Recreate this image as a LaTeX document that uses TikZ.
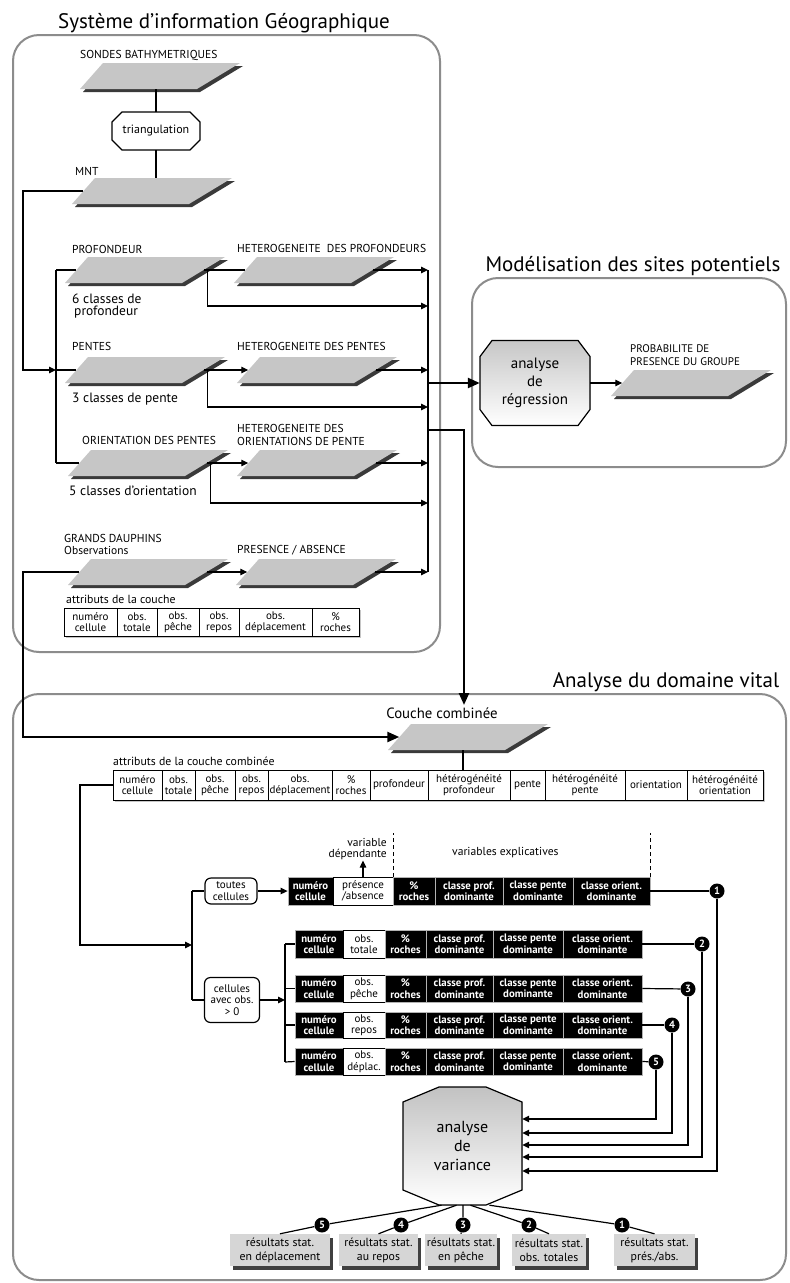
\documentclass[tikz,border=0pt]{standalone}
\usepackage{fontspec}
\setmainfont{PT Sans}
\usetikzlibrary{arrows.meta,calc,shadows}
\newcommand\fsz[1]{\fontsize{#1}{#1}\selectfont}
\newcommand\fszl[2]{\fontsize{#1}{#2}\selectfont}
\definecolor{boxgray}{HTML}{8C8C8C}
\definecolor{laygray}{HTML}{C6C6C6}
\definecolor{laydark}{HTML}{3A3A3A}
\definecolor{resgray}{HTML}{D6D6D6}
\tikzset{
 rframe/.style={draw=boxgray,line width=2pt,rounded corners=26pt},
 conn/.style={line width=1.2pt},
 arr/.style={line width=1.2pt,-{Triangle[length=7pt,width=6.5pt]}},
 bigarr/.style={line width=2.4pt,-{Triangle[length=12pt,width=10pt]}},
 laynode/.style={minimum width=127pt,minimum height=26pt,inner sep=0pt},
 lbl/.style={anchor=base west,inner sep=0pt,font=\fsz{11.5}},
 lbltwo/.style={anchor=base west,inner sep=0pt,font=\fsz{13.5}},
 lblthree/.style={anchor=base west,inner sep=0pt,font=\fsz{11.8}},
 title/.style={anchor=base,inner sep=0pt,font=\fsz{21}},
 octline/.style={draw=black,line width=1.2pt},
 octtext/.style={inner sep=0pt,align=center},
 tcell/.style={draw=black,line width=0.8pt,fill=white,inner sep=0pt,align=center,font=\fszl{11}{11.5}},
 bcell/.style={draw=gray!60,line width=0.8pt,fill=black,text=white,inner sep=0pt,align=center,font=\bfseries\fszl{10.8}{11.5}},
 wcell/.style={draw=black,line width=0.8pt,fill=white,inner sep=0pt,align=center,font=\fszl{11}{11.5}},
 rbox/.style={draw,line width=1.2pt,rounded corners=6pt,fill=white,inner sep=0pt,align=center,font=\fszl{11}{11.5}},
 numc/.style={circle,fill=black,text=white,inner sep=0pt,minimum size=15pt,font=\bfseries\fsz{10.5}},
 resbox/.style={fill=resgray,inner sep=0pt,align=center,minimum height=32pt,font=\fszl{11.8}{14},drop shadow={shadow xshift=3pt,shadow yshift=-4pt,fill=black!75,opacity=1}},
 dashln/.style={line width=1.5pt,dash pattern=on 4pt off 3pt},
}
\newcommand\mklayer[2]{%
 \node[laynode] (#1) at #2 {};
 \begin{scope}[shift={(#1.center)}]
  \fill[laydark] (-72,16) -- (45,16) -- (88,-10) -- (-49,-10) -- cycle;
  \fill[laygray] (-75,13) -- (42,13) -- (85,-13) -- (-52,-13) -- cycle;
 \end{scope}}
% octagon outline: center, half width, half height, cut x, cut y, style
\newcommand\octshape[6]{%
 \begin{scope}[shift={(#1)}]
  \filldraw[#6] (-#2+#4,-#3) -- (#2-#4,-#3) -- (#2,-#3+#5) -- (#2,#3-#5) -- (#2-#4,#3) -- (-#2+#4,#3) -- (-#2,#3-#5) -- (-#2,-#3+#5) -- cycle;
 \end{scope}}
\newcommand\mkcell[7]{\node[#6,minimum width={(#3-#2)*1pt},minimum height={(#5-#4)*1pt}] (#1) at ({(#2+#3)/2},{(#4+#5)/2}) {#7};}
\newcommand\datarow[4]{%
 \mkcell{#1a}{295}{343}{#2}{#3}{bcell}{numéro\\cellule}
 \mkcell{#1b}{343}{385}{#2}{#3}{wcell}{#4}
 \mkcell{#1c}{385}{426}{#2}{#3}{bcell}{\%\\roches}
 \mkcell{#1d}{426}{493}{#2}{#3}{bcell}{classe prof.\\dominante}
 \mkcell{#1e}{493}{563}{#2}{#3}{bcell}{classe pente\\dominante}
 \mkcell{#1f}{563}{642}{#2}{#3}{bcell}{classe orient.\\dominante}}
\begin{document}
\begin{tikzpicture}[x=1pt,y=-1pt]
\useasboundingbox (0,0) rectangle (790,1283);
\fill[white] (0,0) rectangle (790,1283);

% ---------- frames and titles
\draw[rframe] (13,35) rectangle (440,652);
\draw[rframe] (472,278) rectangle (786,467);
\draw[rframe] (13,694) rectangle (786,1280);
\node[title] (t1) at (224,28) {Système d'information Géographique};
\node[title] (t2) at (633,271) {Modélisation des sites potentiels};
\node[title] (t3) at (666,687) {Analyse du domaine vital};

% ---------- SIG layers
\mklayer{sondes}{(155,76)}
\mklayer{mnt}{(147,191)}
\mklayer{prof}{(140,270)}
\mklayer{hprof}{(309,270)}
\mklayer{pentes}{(140,370)}
\mklayer{hpentes}{(312,370)}
\mklayer{orient}{(143,463)}
\mklayer{horient}{(312,463)}
\mklayer{gd}{(143,572)}
\mklayer{pres}{(311,572)}
\mklayer{prob}{(686,383)}
\mklayer{couche}{(463,737)}

\octshape{156,131}{44}{19}{10}{10}{octline,fill=white}
\node[octtext,minimum width=88pt,minimum height=38pt,font=\fsz{12}] (tri) at (156,131) {triangulation};

% labels
\node[lbl] (lsondes) at (80,58) {SONDES BATHYMETRIQUES};
\node[lbl] (lmnt) at (75,175) {MNT};
\node[lbl] (lprof) at (72,253) {PROFONDEUR};
\node[lbl] (lhprof) at (237,252) {HETEROGENEITE\ \ DES PROFONDEURS};
\node[lbltwo] (lprof2) at (72,303) {6 classes de};
\node[lbltwo] (lprof3) at (74,315) {profondeur};
\node[lbl] (lpen) at (72,350) {PENTES};
\node[lbl] (lhpen) at (237,350) {HETEROGENEITE DES PENTES};
\node[lbltwo] (lpen2) at (72,402) {3 classes de pente};
\node[lbl] (lor) at (82,444) {ORIENTATION DES PENTES};
\node[lbl] (lhor1) at (237,432) {HETEROGENEITE DES};
\node[lbl] (lhor2) at (237,445) {ORIENTATIONS DE PENTE};
\node[lbltwo] (lor2) at (69,495) {5 classes d'orientation};
\node[lbl] (lgd1) at (64,542) {GRANDS DAUPHINS};
\node[lbl] (lgd2) at (64,554) {Observations};
\node[lbl] (lpres) at (237,553) {PRESENCE / ABSENCE};
\node[lblthree] (lattr) at (66,603) {attributs de la couche};
\node[lbl,font=\fsz{11}] (lprob1) at (630,352) {PROBABILITE DE};
\node[lbl,font=\fsz{11}] (lprob2) at (630,365) {PRESENCE DU GROUPE};

% table 1
\fill[gray!45] (66,610) rectangle (361,638);
\mkcell{ta1}{64}{117}{608}{636}{tcell}{numéro\\cellule}
\mkcell{ta2}{117}{157}{608}{636}{tcell}{obs.\\totale}
\mkcell{ta3}{157}{199}{608}{636}{tcell}{obs.\\pêche}
\mkcell{ta4}{199}{239}{608}{636}{tcell}{obs.\\repos}
\mkcell{ta5}{239}{312}{608}{636}{tcell}{obs.\\déplacement}
\mkcell{ta6}{312}{359}{608}{636}{tcell}{\%\\roches}

% coordinates
\coordinate (lx) at (23,300);
\coordinate (trtop) at (56,270);
\coordinate (trbot) at (56,463);
\coordinate (bustop) at (428,270);
\coordinate (busbot) at (428,572);
\coordinate (bp1) at (428,306);
\coordinate (bp2) at (428,407);
\coordinate (bp3) at (428,503);
\coordinate (busreg) at (428,383);
\coordinate (buscc) at (428,430);
\coordinate (cctop) at (464,705);

% SIG connectors
\draw[conn] (tri.north |- sondes.south) -- (tri.north);
\draw[conn] (tri.south) -- (tri.south |- mnt.north);
\draw[arr] (mnt.west) -- (mnt.west -| lx) |- (pentes.west -| trtop);
\draw[conn] (trtop) -- (trbot);
\draw[conn] (trtop) -- (prof.west);
\draw[conn] (pentes.west -| trtop) -- (pentes.west);
\draw[conn] (trbot) -- (orient.west);
\draw[conn] (prof.east) -- (hprof.west);
\draw[arr] (hprof.east) -- (hprof.east -| bustop);
\draw[arr] ($(prof.east)+(4,0)$) |- (bp1);
\draw[arr] (pentes.east) -- (hpentes.west);
\draw[arr] (hpentes.east) -- (hpentes.east -| bustop);
\draw[arr] ($(pentes.east)+(4,0)$) |- (bp2);
\draw[arr] (orient.east) -- (horient.west);
\draw[arr] (horient.east) -- (horient.east -| bustop);
\draw[arr] ($(orient.east)+(4,0)$) |- (bp3);
\draw[arr] (gd.east) -- (pres.west);
\draw[arr] (pres.east) -- (pres.east -| bustop);
\draw[line width=1.5pt] (bustop) -- (busbot);

% regression
\octshape{535,383}{55}{42.5}{12}{16}{octline,top color=black!22,bottom color=white}
\node[octtext,minimum width=110pt,minimum height=85pt,font=\fszl{15}{18}] (reg) at (535,383) {analyse\\de\\régression};
\draw[bigarr] (busreg) -- (reg.west);
\draw[arr] (reg.east) -- (prob.west);

% to domaine vital
\draw[bigarr] (buscc) -| (cctop);
\draw[bigarr] (gd.west) -- (gd.west -| lx) |- (couche.west);
\node[anchor=base,inner sep=0pt,font=\fsz{14.8}] (cctext) at (442,718) {Couche combinée};
\node[lblthree] (lattr2) at (113,765) {attributs de la couche combinée};

% table 2
\fill[gray!45] (115,772) rectangle (765,802);
\mkcell{tb1}{113}{162}{770}{800}{tcell}{numéro\\cellule}
\mkcell{tb2}{162}{195}{770}{800}{tcell}{obs.\\totale}
\mkcell{tb3}{195}{235}{770}{800}{tcell}{obs.\\pêche}
\mkcell{tb4}{235}{268}{770}{800}{tcell}{obs.\\repos}
\mkcell{tb5}{268}{332}{770}{800}{tcell}{obs.\\déplacement}
\mkcell{tb6}{332}{370}{770}{800}{tcell}{\%\\roches}
\mkcell{tb7}{370}{428}{770}{800}{tcell}{profondeur}
\mkcell{tb8}{428}{510}{770}{800}{tcell}{hétérogénéité\\profondeur}
\mkcell{tb9}{510}{545}{770}{800}{tcell}{pente}
\mkcell{tb10}{545}{625}{770}{800}{tcell}{hétérogénéité\\pente}
\mkcell{tb11}{625}{687}{770}{800}{tcell}{orientation}
\mkcell{tb12}{687}{763}{770}{800}{tcell}{hétérogénéité\\orientation}
\draw[conn] (couche.south) -- (couche.south |- tb8.north);

% selection boxes
\node[rbox,minimum width=52pt,minimum height=26pt] (toutes) at (231,891) {toutes\\cellules};
\node[rbox,minimum width=55pt,minimum height=45pt] (cel) at (232,1000) {cellules\\avec obs.\\> 0};
\coordinate (v1top) at (192,891);
\coordinate (v1mid) at (192,945);
\coordinate (v1bot) at (192,1000);
\coordinate (lx2) at (80,945);
\draw[arr] (tb1.west) -| (lx2) -- (v1mid);
\draw[conn] (v1top) -- (v1bot);
\draw[conn] (v1top) -- (toutes.west);
\draw[conn] (v1bot) -- (cel.west);

% row 1
\mkcell{ra1}{288}{333}{877}{905}{bcell}{numéro\\cellule}
\mkcell{ra2}{333}{393}{877}{905}{wcell}{présence\\/absence}
\mkcell{ra3}{393}{435}{877}{905}{bcell}{\%\\roches}
\mkcell{ra4}{435}{503}{877}{905}{bcell}{classe prof.\\dominante}
\mkcell{ra5}{503}{573}{877}{905}{bcell}{classe pente\\dominante}
\mkcell{ra6}{573}{650}{877}{905}{bcell}{classe orient.\\dominante}
\draw[arr] (toutes.east) -- (ra1.west);
\draw[dashln] (ra2.north east) -- ++(0,-44);
\draw[dashln] (ra6.north east) -- ++(0,-44);
\draw[arr] (ra2.north) -- ++(0,-16);
\node[anchor=base east,inner sep=0pt,font=\fsz{11.5}] (vd1) at (387,846) {variable};
\node[anchor=base east,inner sep=0pt,font=\fsz{11.5}] (vd2) at (387,857) {dépendante};
\node[anchor=base west,inner sep=0pt,font=\fsz{11.6}] (vexp) at (452,855) {variables explicatives};

% rows 2-5
\datarow{rb}{930}{958}{obs.\\totale}
\datarow{rc}{975}{1002}{obs.\\pêche}
\datarow{rd}{1012}{1038}{obs.\\repos}
\datarow{re}{1048}{1075}{obs.\\déplac.}
\coordinate (v2top) at (285,944);
\coordinate (v2bot) at (285,1062);
\draw[arr] (cel.east) -- (cel.east -| v2top);
\draw[conn] (v2top) -- (v2bot);
\draw[conn] (v2top) -- (rba.west);
\draw[conn] (rca.west -| v2top) -- (rca.west);
\draw[conn] (rda.west -| v2top) -- (rda.west);
\draw[conn] (v2bot) -- (rea.west);

% numbered circles
\node[numc] (c1) at (717,891) {1};
\node[numc] (c2) at (702,944) {2};
\node[numc] (c3) at (688,989) {3};
\node[numc] (c4) at (672,1025) {4};
\node[numc] (c5) at (656,1062) {5};
\draw[conn] (ra6.east) -- (c1);
\draw[conn] (rbf.east) -- (c2);
\draw[conn] (rcf.east) -- (c3);
\draw[conn] (rdf.east) -- (c4);
\draw[conn] (ref.east) -- (c5);

% variance
\octshape{462.5,1146}{59.5}{59}{36}{15}{octline,top color=black!24,bottom color=white}
\node[octtext,minimum width=119pt,minimum height=118pt,font=\fszl{16}{19}] (var) at (462.5,1146) {analyse\\de\\variance};
\draw[arr] (c1) |- ($(var.east)+(0,25)$);
\draw[arr] (c2) |- ($(var.east)+(0,11)$);
\draw[arr] (c3) |- ($(var.east)+(0,-1)$);
\draw[arr] (c4) |- ($(var.east)+(0,-13)$);
\draw[arr] (c5) |- ($(var.east)+(0,-27)$);

% results
\node[resbox,minimum width=100pt] (res5) at (280,1250) {résultats stat.\\en déplacement};
\node[resbox,minimum width=79pt] (res4) at (378.5,1250) {résultats stat.\\au repos};
\node[resbox,minimum width=72pt] (res3) at (461,1250) {résultats stat.\\en pêche};
\node[resbox,minimum width=74pt] (res2) at (549,1250) {résultats stat.\\obs. totales};
\node[resbox,minimum width=81pt] (res1) at (654.5,1250) {résultats stat.\\prés./abs.};
\node[numc] (d5) at (322,1225) {5};
\node[numc] (d4) at (401,1225) {4};
\node[numc] (d3) at (463,1225) {3};
\node[numc] (d2) at (529,1225) {2};
\node[numc] (d1) at (622,1225) {1};
\draw[conn] ($(var.south)+(-21,0)$) -- (d5) -- (res5.north);
\draw[conn] ($(var.south)+(-6,0)$) -- (d4) -- (res4.north);
\draw[conn] ($(var.south)+(0.5,0)$) -- (d3) -- (res3.north);
\draw[conn] ($(var.south)+(8,0)$) -- (d2) -- (res2.north);
\draw[conn] ($(var.south)+(27,0)$) -- (d1) -- (res1.north);
\end{tikzpicture}
\end{document}
